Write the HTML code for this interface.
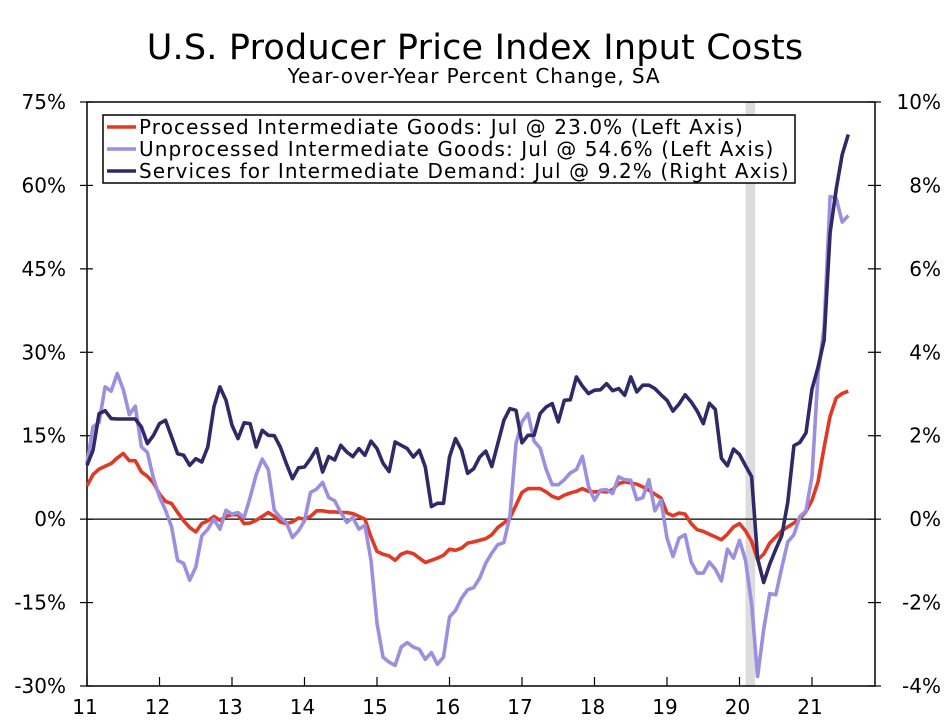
<!DOCTYPE html>
<html><head><meta charset="utf-8"><style>
html,body{margin:0;padding:0;background:#fff;}
svg{display:block;font-family:"DejaVu Sans","Liberation Sans",sans-serif;}
</style></head><body>
<svg id="chart" width="947" height="727" viewBox="0 0 947 727">
<text x="475" y="59" text-anchor="middle" font-size="35" letter-spacing="0.2" fill="#000">U.S. Producer Price Index Input Costs</text>
<text x="474" y="83" text-anchor="middle" font-size="20" letter-spacing="0.9" fill="#000">Year-over-Year Percent Change, SA</text>
<g id="plot"></g>
</svg>
<script>
const years = ["11","12","13","14","15","16","17","18","19","20","21"];
const leftTicks = [75,60,45,30,15,0,-15,-30];
const rightTicks = [10,8,6,4,2,0,-2,-4];
const processed = [6,8,9,9.5,10,11,11.8,10.5,10.5,8.5,7.7,6.5,
4.5,3.2,2.8,1.2,-0.3,-1.5,-2.3,-0.8,-0.3,0.5,-0.2,0.5,
0.8,0.8,-0.8,-0.7,-0.2,0.5,1.2,0.5,-0.5,-0.8,-0.5,0.2,
0,0.5,1.5,1.5,1.3,1.3,1.2,1.2,1.0,0.5,0,-3.2,
-5.8,-6.3,-6.6,-7.4,-6.3,-5.9,-6.2,-7,-7.8,-7.4,-7,-6.5,
-5.4,-5.6,-5.2,-4.3,-4.1,-3.8,-3.5,-2.8,-1.5,-0.7,0.2,2.5,
4.8,5.5,5.5,5.5,4.9,4.1,3.7,4.3,4.7,5,5.5,5,
4.9,5,4.9,5.3,6.4,6.7,6.5,6.3,5.8,5.2,4.5,3.8,
1.1,0.6,1.1,0.9,-0.8,-1.9,-2.2,-2.7,-3.2,-3.7,-2.7,-1.4,
-0.8,-2.1,-4,-7.3,-6.3,-4.3,-3.2,-2.1,-1.4,-0.7,0.1,1.4,
3.4,6.7,12.9,18.5,21.8,22.6,23.0];
const unprocessed = [10,16.6,17.4,23.8,23,26.2,23.3,18.8,20.3,13,12,7.3,
4,1.6,-1.4,-7.4,-8,-11,-8.6,-3,-1.8,0,-1.8,1.6,
0.9,1.2,0.3,3.9,8,10.8,8.9,1.6,0.3,-0.6,-3.3,-2.1,
-0.3,4.8,5.4,6.6,3.9,3.3,1.2,-0.6,0.3,-1.8,-1.1,-7.4,
-18.7,-24.8,-25.7,-26.3,-23,-22.2,-23,-23.4,-25.2,-24,-26.1,-24.8,
-17.6,-16.4,-14.2,-12.7,-12.3,-10.6,-7.9,-6.1,-4.6,-4.2,0.5,13.6,
17.5,19,14,12.8,8.9,6.2,6.2,7.1,8.3,8.9,11.3,5.9,
3.4,5.2,5.3,4.6,7.6,7.1,7,3.5,3.9,7.1,1.5,3.4,
-3.4,-6.7,-3.4,-2.8,-7.7,-9.7,-9.7,-7.7,-9,-11.1,-5.4,-7,
-3.8,-7.4,-15.2,-28.3,-19.8,-13.4,-13.6,-8.7,-4.1,-2.8,0.5,1.5,
7.7,26,34.5,58,57.7,53.4,54.6];
const services = [1.29,1.65,2.53,2.6,2.41,2.4,2.4,2.4,2.4,2.21,1.81,2.01,
2.29,2.37,1.97,1.57,1.53,1.29,1.45,1.37,1.73,2.69,3.17,2.85,
2.25,1.93,2.31,2.29,1.73,2.13,2.01,2.0,1.73,1.33,0.97,1.23,
1.25,1.45,1.69,1.13,1.5,1.42,1.77,1.61,1.5,1.69,1.53,1.87,
1.69,1.34,1.14,1.85,1.77,1.69,1.49,1.65,1.25,0.3,0.38,0.38,
1.49,1.93,1.65,1.1,1.21,1.49,1.63,1.26,1.81,2.37,2.65,2.61,
1.83,2.01,2.01,2.53,2.69,2.77,2.33,2.85,2.86,3.41,3.19,3.01,
3.09,3.1,3.25,3.08,3.13,2.97,3.41,3.05,3.21,3.21,3.13,2.98,
2.85,2.59,2.76,2.98,2.81,2.59,2.29,2.78,2.63,1.46,1.28,1.68,
1.55,1.28,1.02,-0.94,-1.52,-1.08,-0.72,-0.39,0.41,1.76,1.84,2.07,
3.12,3.64,4.29,6.87,7.91,8.74,9.22];
const recession = [109,110.6];

const L=87,R=875,T=102,B=686;
const xScale = i => L + i*(812-L)/120;
const yLeft = v => T + (75-v)*(B-T)/105;
const yRight = v => T + (10-v)*(B-T)/14;
const NS="http://www.w3.org/2000/svg";
const g=document.getElementById('plot');
function mk(tag,attrs,parent){const e=document.createElementNS(NS,tag);for(const k in attrs)e.setAttribute(k,attrs[k]);(parent||g).appendChild(e);return e;}

const rec=mk('rect',{x:xScale(recession[0]),y:T,width:xScale(recession[1])-xScale(recession[0]),height:B-T,fill:'#dcdcdc'});



const zl=mk('line',{x1:L,x2:R,y1:yLeft(0),y2:yLeft(0),stroke:'#000','stroke-width':1.2});



const frame=mk('rect',{x:L,y:T,width:R-L,height:B-T,fill:'none',stroke:'#000','stroke-width':1.5});



leftTicks.forEach(v=>{
  const y=yLeft(v);
  mk('line',{x1:L-7,x2:L+6,y1:y,y2:y,stroke:'#000','stroke-width':1.2});
  const t=mk('text',{x:66,y:y+7,'text-anchor':'end','font-size':20});
  t.textContent=v+'%';
  
  
});
rightTicks.forEach(v=>{
  const y=yRight(v);
  mk('line',{x1:R-7,x2:R+6,y1:y,y2:y,stroke:'#000','stroke-width':1.2});
  const t=mk('text',{x:941,y:y+7,'text-anchor':'end','font-size':20});
  t.textContent=v+'%';
  
  
});
years.forEach((yr,k)=>{
  const x=xScale(k*12);
  mk('line',{x1:x,x2:x,y1:B-9,y2:B,stroke:'#000','stroke-width':1.2});
  const t=mk('text',{x:x-2,y:B+28,'text-anchor':'middle','font-size':20});
  t.textContent=yr;
  
  
});

function line(data,ys,color,name){
  const d=data.map((v,i)=>(i?'L':'M')+xScale(i).toFixed(1)+','+ys(v).toFixed(1)).join('');
  const p=mk('path',{d:d,fill:'none',stroke:color,'stroke-width':3.6,'stroke-linejoin':'round'});
  
  
}
line(processed,yLeft,'#e03a25','processed-goods-line');
line(unprocessed,yLeft,'#9c8fe0','unprocessed-goods-line');
line(services,yRight,'#2e2a68','services-line');

const lg=mk('g',{});


mk('rect',{x:103,y:115,width:692,height:68,fill:'#fff',stroke:'#000','stroke-width':1.5},lg);
const items=[['#e03a25','Processed Intermediate Goods: Jul @ 23.0% (Left Axis)','legend-entry-processed'],
['#9c8fe0','Unprocessed Intermediate Goods: Jul @ 54.6% (Left Axis)','legend-entry-unprocessed'],
['#2e2a68','Services for Intermediate Demand: Jul @ 9.2% (Right Axis)','legend-entry-services']];
items.forEach((it,k)=>{
  const y=127+k*22;
  mk('line',{x1:107,x2:136,y1:y,y2:y,stroke:it[0],'stroke-width':3.6},lg);
  const t=mk('text',{x:139,y:y+7,'font-size':20,'letter-spacing':1.1},lg);
  t.textContent=it[1];
  
  
});
</script>
</body></html>
